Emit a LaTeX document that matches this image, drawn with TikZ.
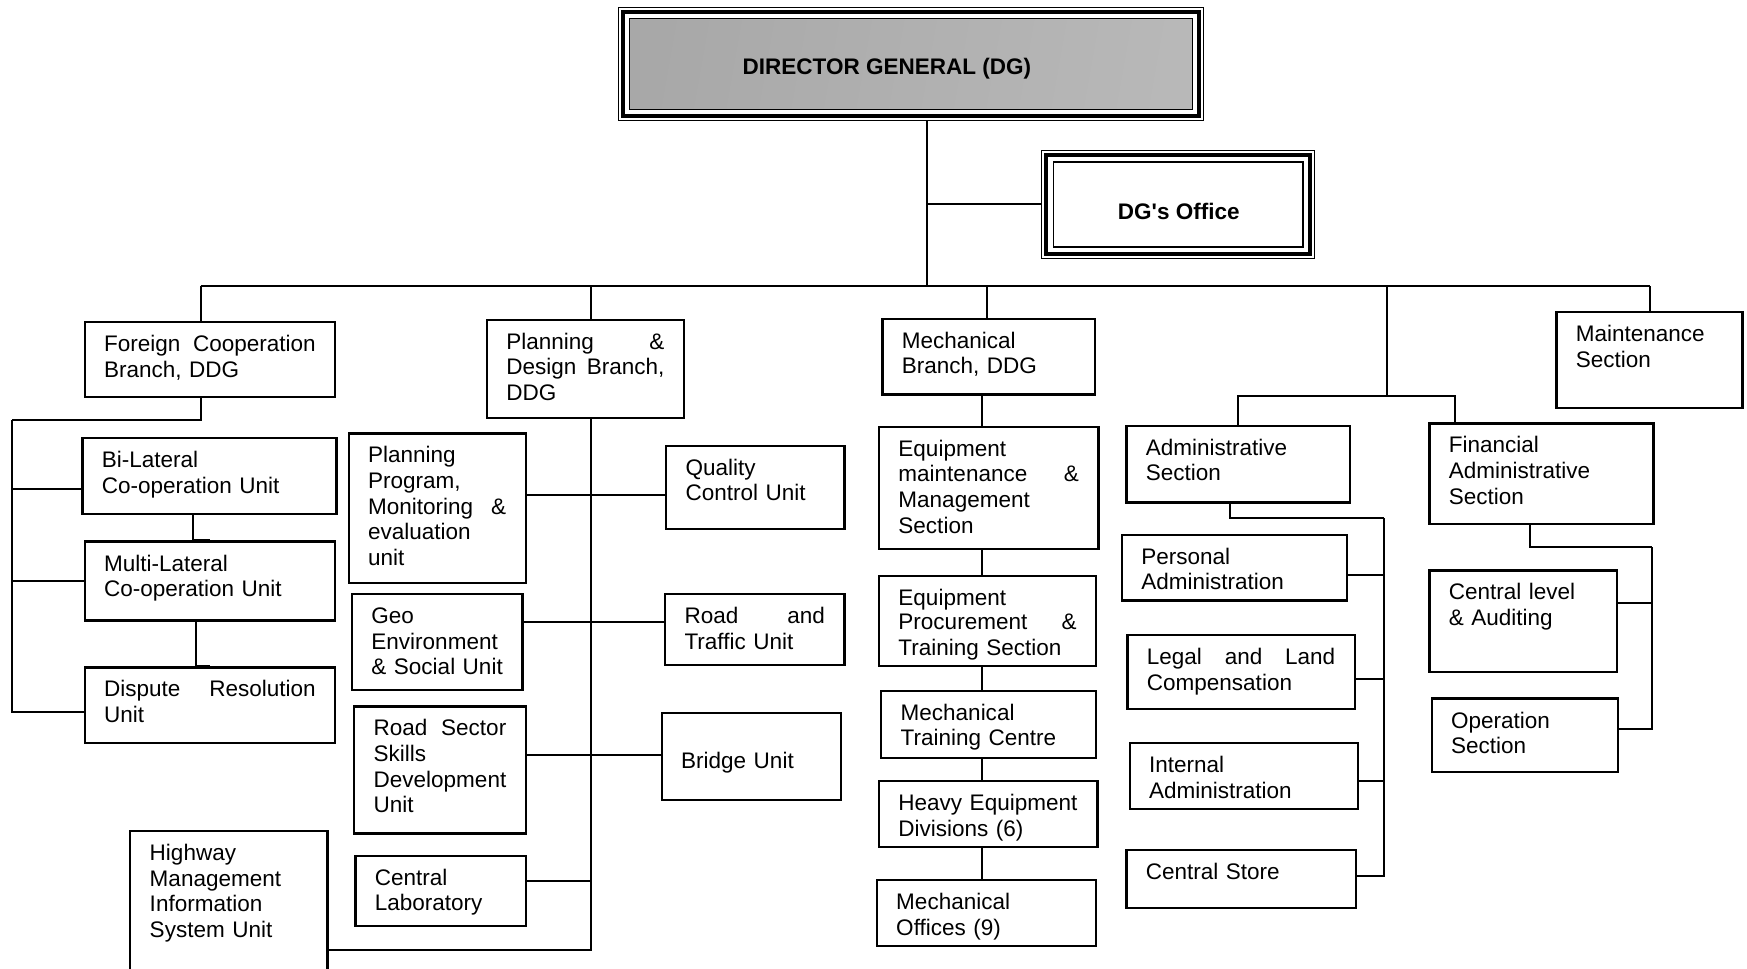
\documentclass[tikz,border=0pt]{standalone}
\usepackage{fontspec}
\setmainfont{Liberation Sans}
\newcommand{\unitfont}{\fontsize{10.1}{11.5}\selectfont}
\newcommand{\OrgBox}[7][5.5]{%
  \pgfmathsetmacro{\boxw}{(#5-#3)*0.5}%
  \pgfmathsetmacro{\boxh}{(#6-#4)*0.5}%
  \pgfmathsetmacro{\textw}{(#5-#3-35)*0.5}%
  \node[orgbox, minimum width=\boxw pt, minimum height=\boxh pt] (#2) at (#3,#4) {};
  \node[orgtext, text width=\textw pt] (#2-t) at ([shift={(9pt,-#1pt)}]#2.north west) {\strut #7};
}

\begin{document}
\begin{tikzpicture}[x=0.5pt, y=-0.5pt,
    orgbox/.style={draw, line width=1pt, inner sep=0pt, anchor=north west},
    orgtext/.style={anchor=north west, align=left, inner sep=0pt, font=\unitfont},
    link/.style={line width=0.9pt},
    topbox/.style={draw, line width=0.6pt, inner sep=0pt}]

    \useasboundingbox (0,0) rectangle (1568,869);
    \clip (0,0) rectangle (1568,869);

    % director general and office
    \node[topbox, minimum width=262.5pt, minimum height=50.5pt] (dg) at (817.5,57.5) {};
    \draw[line width=1.8pt] ([shift={(2.4pt,-2.4pt)}]dg.north west) rectangle ([shift={(-2.4pt,2.4pt)}]dg.south east);
    \draw[line width=0.6pt, left color=black!34, middle color=black!10, right color=black!28, shading angle=80]
        ([shift={(5.2pt,-5.2pt)}]dg.north west) rectangle ([shift={(-5.2pt,5.2pt)}]dg.south east);
    \node[font=\unitfont\bfseries] (dg-t) at (796,62) {DIRECTOR GENERAL (DG)};

    \node[topbox, minimum width=122.5pt, minimum height=48.5pt] (office) at (1057.5,183.5) {};
    \draw[line width=1.8pt] ([shift={(2.4pt,-2.4pt)}]office.north west) rectangle ([shift={(-2.4pt,2.4pt)}]office.south east);
    \draw[line width=0.6pt] ([shift={(5.5pt,-5.5pt)}]office.north west) rectangle ([shift={(-5.5pt,5.5pt)}]office.south east);
    \node[font=\unitfont\bfseries] (office-t) at (1058,190) {DG\textquotesingle s Office};

    % branches
    \OrgBox{fcb}{75}{288}{300}{355}{Foreign\hfill Cooperation\\Branch, DDG}
    \OrgBox{pdb}{436}{286}{613}{374}{Planning\hfill\&\\Design\hfill Branch,\\DDG}
    \OrgBox{mcb}{791}{285}{982}{353}{Mechanical\\Branch, DDG}
    \OrgBox{mnt}{1396}{279}{1563}{365}{Maintenance\\Section}

    % foreign cooperation units
    \OrgBox{bi}{73}{392}{301}{460}{Bi-Lateral\\Co-operation Unit}
    \OrgBox{ml}{75}{485}{300}{556}{Multi-Lateral\\Co-operation Unit}
    \OrgBox{dsp}{75}{598}{300}{666}{Dispute\hfill Resolution\\Unit}

    % planning and design units
    \OrgBox{ppm}{312}{388}{471}{522}{Planning\\Program,\\Monitoring\hfill\&\\evaluation\\unit}
    \OrgBox{geo}{315}{532}{468}{618}{Geo\\Environment\\\& Social Unit}
    \OrgBox{rss}{317}{633}{471}{747}{Road\hfill Sector\\Skills\\Development\\Unit}
    \OrgBox{clab}{318}{767}{471}{830}{Central\\Laboratory}
    \OrgBox{hw}{116}{745}{293}{885}{Highway\\Management\\Information\\System Unit}
    \OrgBox{qcu}{597}{399}{757}{474}{Quality\\Control Unit}
    \OrgBox{rtu}{596}{532}{757}{596}{Road\hfill and\\Traffic Unit}
    \OrgBox[17]{brg}{593}{639}{754}{717}{Bridge Unit}

    % mechanical units
    \OrgBox{emm}{788}{382}{985}{492}{Equipment\\maintenance\hfill\&\\Management\\Section}
    \OrgBox{epts}{788}{516}{983}{597}{\fontsize{10.1}{10.8}\selectfont Equipment\\Procurement\hfill\&\\Training Section}
    \OrgBox{mtc}{790}{619}{983}{679}{Mechanical\\Training Centre}
    \OrgBox{hed}{788}{700}{984}{759}{Heavy Equipment\\Divisions (6)}
    \OrgBox{mof}{786}{789}{983}{848}{Mechanical\\Offices (9)}

    % administration and finance
    \OrgBox{adm}{1010}{381}{1211}{450}{Administrative\\Section}
    \OrgBox{pa}{1006}{479}{1208}{538}{Personal\\Administration}
    \OrgBox{llc}{1011}{569}{1215}{635}{Legal\hfill and\hfill Land\\Compensation}
    \OrgBox{ia}{1013}{666}{1218}{725}{Internal\\Administration}
    \OrgBox{cs}{1010}{762}{1216}{814}{Central Store}
    \OrgBox{fin}{1282}{379}{1483}{469}{Financial\\Administrative\\Section}
    \OrgBox{cla}{1282}{511}{1450}{602}{Central level\\\& Auditing}
    \OrgBox{ops}{1284}{626}{1451}{692}{Operation\\Section}

    % junctions
    \coordinate (bus) at (832,257);
    \coordinate (fx) at (180,377);
    \coordinate (lsp) at (11,377);
    \coordinate (psp) at (530,853);
    \coordinate (p1) at (530,444);
    \coordinate (p2) at (530,558);
    \coordinate (p3) at (530,678);
    \coordinate (p4) at (530,791);
    \coordinate (mx) at (881,300);
    \coordinate (afj) at (1245,355);
    \coordinate (asp) at (1242,465);
    \coordinate (fsp) at (1483,491);

    % top level
    \draw[link] (bus |- dg.south) -- (bus);
    \draw[link] (bus |- office.west) -- (office.west);
    \draw[link] (bus -| fx) -- (bus -| mnt.north);
    \draw[link] (bus -| fx) -- (fcb.north -| fx);
    \draw[link] (bus -| psp) -- (pdb.north -| psp);
    \draw[link] ([xshift=-0.75pt]bus -| mcb.north) -- ([xshift=-0.75pt]mcb.north);
    \draw[link] (bus -| mnt.north) -- (mnt.north);
    \draw[link] (bus -| afj) -- (afj);
    \draw[link] (adm.north) |- (afj) -| ([xshift=12pt]fin.north west);

    % foreign cooperation
    \draw[link] (fcb.south -| fx) |- (lsp);
    \draw[link] ([yshift=-6pt]bi.west) -| (lsp);
    \draw[link] (ml.west) -| (lsp);
    \draw[link] ([yshift=-3pt]dsp.west) -| (lsp);
    \draw[link] ([xshift=-7.5pt]bi.south) |- (ml.north);
    \draw[link] ([xshift=-6.25pt]ml.south) |- (dsp.north);

    % planning and design
    \draw[link] (pdb.south -| psp) -- (psp) -- (psp -| hw.east);
    \foreach \row/\l/\r in {p1/ppm/qcu, p2/geo/rtu, p3/rss/brg}
        \draw[link] (\row -| \l.east) -- (\row -| \r.west);
    \draw[link] (p4 -| clab.east) -- (p4);

    % mechanical
    \foreach \a/\b in {mcb/emm, emm/epts, epts/mtc, mtc/hed, hed/mof}
        \draw[link] (\a.south -| mx) -- (\b.north -| mx);

    % administration
    \draw[link] ([xshift=-3.75pt]adm.south) |- (asp);
    \draw[link] ([yshift=-3.25pt]pa.east) -| (asp);
    \draw[link] ([yshift=-3pt]llc.east) -| (asp);
    \draw[link] ([yshift=-2.25pt]ia.east) -| (asp);
    \draw[link] ([yshift=1.5pt]cs.east) -| (asp);

    % finance
    \draw[link] ([xshift=-5.25pt]fin.south) |- (fsp);
    \draw[link] ([yshift=8.25pt]cla.east) -| (fsp);
    \draw[link] ([yshift=3pt]ops.east) -| (fsp);

\end{tikzpicture}
\end{document}
